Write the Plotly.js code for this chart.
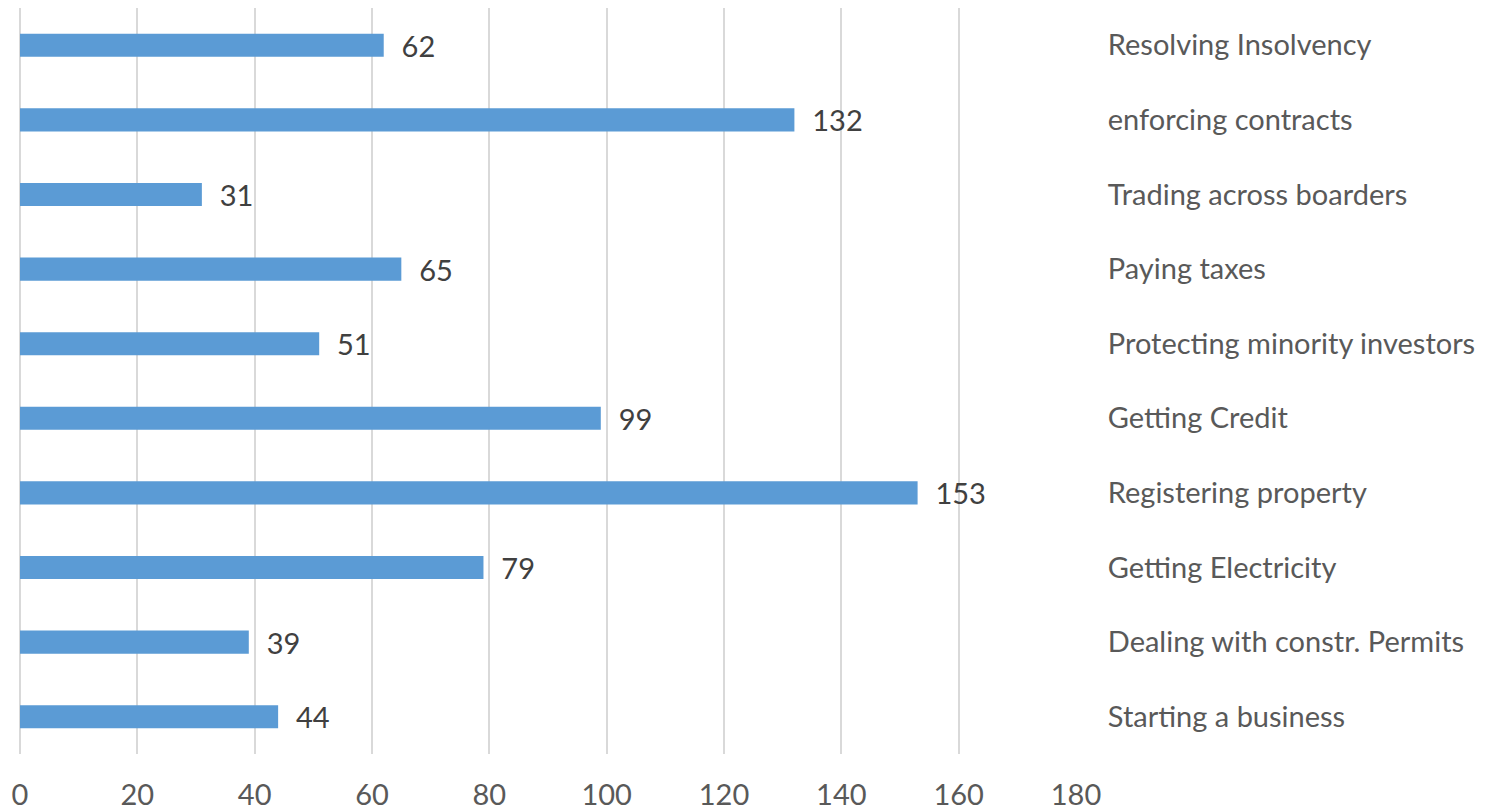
<!DOCTYPE html>
<html>
<head>
<meta charset="utf-8">
<script src="https://cdn.plot.ly/plotly-3.0.1.min.js"></script>
<style>html,body{margin:0;padding:0;background:#fff;}#chart{width:1489px;height:810px;}</style>
</head>
<body>
<div id="chart"></div>
<script>
var categories = ["Starting a business", "Dealing with constr. Permits", "Getting Electricity", "Registering property", "Getting Credit", "Protecting minority investors", "Paying taxes", "Trading across boarders", "enforcing contracts", "Resolving Insolvency"];
var values = [44, 39, 79, 153, 99, 51, 65, 31, 132, 62];
var xTicks = [0, 20, 40, 60, 80, 100, 120, 140, 160, 180];

var FONT = "Lato, Calibri, 'Liberation Sans', sans-serif";

var trace = {
  type: "bar",
  orientation: "h",
  x: values,
  y: categories,
  marker: {color: "#5B9BD5"},
  texttemplate: "\u00a0\u00a0%{x}",
  textposition: "outside",
  constraintext: "none",
  cliponaxis: false,
  textfont: {family: FONT, size: 29, color: "#404040"},
  hoverinfo: "none"
};

var layout = {
  width: 1489,
  height: 810,
  margin: {l: 20, r: 413, t: 8, b: 56},
  paper_bgcolor: "#ffffff",
  plot_bgcolor: "#ffffff",
  showlegend: false,
  bargap: 0.69,
  xaxis: {
    range: [0, 180],
    tickvals: xTicks,
    ticktext: xTicks.map(String),
    showgrid: true,
    gridcolor: "#D9D9D9",
    gridwidth: 2,
    zeroline: true,
    zerolinecolor: "#D9D9D9",
    zerolinewidth: 2,
    showline: false,
    ticks: "outside",
    ticklen: 15,
    tickcolor: "rgba(0,0,0,0)",
    tickfont: {family: FONT, size: 29, color: "#595959"},
    fixedrange: true
  },
  yaxis: {
    side: "right",
    type: "category",
    categoryorder: "array",
    categoryarray: categories,
    showgrid: false,
    zeroline: false,
    showline: false,
    ticks: "outside",
    ticklen: 25,
    tickcolor: "rgba(0,0,0,0)",
    tickfont: {family: FONT, size: 29, color: "#595959"},
    fixedrange: true
  }
};

Plotly.newPlot("chart", [trace], layout, {displayModeBar: false, staticPlot: true});
</script>
</body>
</html>
